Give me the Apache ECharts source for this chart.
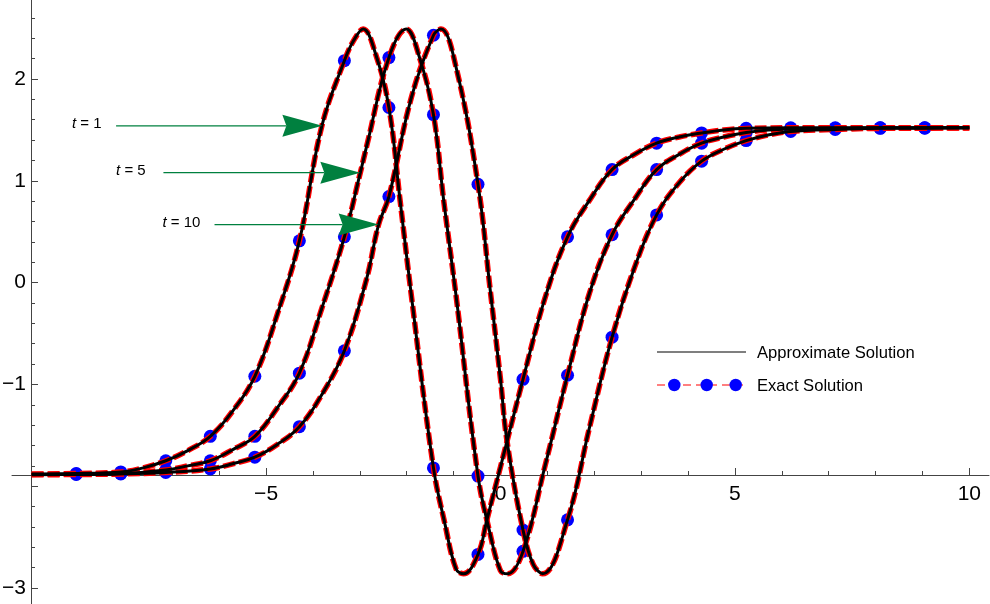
<!DOCTYPE html>
<html>
<head>
<meta charset="utf-8">
<script src="https://cdn.jsdelivr.net/npm/echarts@6/dist/echarts.min.js"></script>
<style>
  html, body { margin: 0; padding: 0; background: #fff; }
  #main { width: 990px; height: 604px; }
</style>
</head>
<body>
<div id="main"></div>
<script>
// sampled points (blue dots), same x for every t
var dotX = [-9.05, -8.10, -7.14, -6.19, -5.24, -4.29, -3.33, -2.38, -1.43, -0.48,
            0.48, 1.43, 2.38, 3.33, 4.29, 5.24, 6.19, 7.14, 8.10, 9.05];
var dotT1 = [-1.875, -1.86, -1.75, -1.51, -0.92, 0.41, 2.18, 1.72, -1.82, -2.67,
             -0.95, 0.45, 1.11, 1.37, 1.47, 1.515, 1.52, 1.52, 1.52, 1.52];
var dotT5 = [-1.88, -1.875, -1.84, -1.75, -1.51, -0.89, 0.45, 2.21, 1.65, -1.90,
             -2.64, -0.91, 0.47, 1.11, 1.37, 1.474, 1.51, 1.515, 1.52, 1.52];
var dotT10 = [-1.885, -1.88, -1.865, -1.83, -1.715, -1.415, -0.67, 0.845, 2.43, 0.966,
              -2.43, -2.33, -0.536, 0.665, 1.193, 1.395, 1.485, 1.505, 1.515, 1.517];

// curves
var t1X = [-10, -9.05, -8.10, -7.62, -7.14, -6.67, -6.19, -5.71, -5.24, -4.76, -4.29, -3.81, -3.33, -3.13, -2.93,
           -2.66, -2.38, -2.14, -1.89, -1.43, -1.19, -0.95, -0.79, -0.48, -0.29, 0, 0.48, 0.95, 1.43, 1.90,
           2.38, 2.86, 3.33, 3.81, 4.29, 4.76, 5.24, 6.19, 7.14, 8.10, 9.05, 10];
var t1Y = [-1.88, -1.875, -1.86, -1.82, -1.75, -1.65, -1.51, -1.26, -0.92, -0.31, 0.41, 1.54, 2.18, 2.38, 2.49,
           2.24, 1.72, 0.80, -0.17, -1.82, -2.36, -2.81, -2.86, -2.67, -2.33, -1.81, -0.95, -0.15, 0.45, 0.81,
           1.11, 1.26, 1.37, 1.43, 1.47, 1.50, 1.515, 1.52, 1.52, 1.52, 1.52, 1.52];

var t5X = [-10, -9.05, -8.10, -7.14, -6.67, -6.19, -5.71, -5.24, -4.76, -4.29, -3.81, -3.33, -2.99, -2.86, -2.38,
           -2.01, -1.72, -1.43, -1.21, -0.95, -0.48, -0.24, 0, 0.15, 0.48, 0.95, 1.43, 1.90, 2.38, 2.86,
           3.33, 3.81, 4.29, 4.76, 5.24, 5.71, 6.19, 7.14, 8.10, 9.05, 10];
var t5Y = [-1.885, -1.88, -1.875, -1.84, -1.80, -1.75, -1.64, -1.51, -1.23, -0.89, -0.25, 0.45, 1.08, 1.33, 2.21,
           2.49, 2.20, 1.65, 0.80, -0.12, -1.90, -2.43, -2.83, -2.86, -2.64, -1.80, -0.91, -0.10, 0.47, 0.82,
           1.11, 1.26, 1.37, 1.43, 1.474, 1.50, 1.51, 1.515, 1.52, 1.52, 1.52];

var t10X = [-10, -9.05, -8.10, -7.14, -6.19, -5.71, -5.24, -4.76, -4.29, -3.81, -3.33, -2.86, -2.60, -2.38, -1.90,
            -1.43, -1.27, -0.95, -0.48, -0.22, 0, 0.14, 0.48, 0.70, 0.90, 1.43, 1.90, 2.38, 2.86, 3.33,
            3.81, 4.29, 4.76, 5.24, 5.71, 6.19, 7.14, 8.10, 9.05, 10];
var t10Y = [-1.888, -1.885, -1.88, -1.865, -1.83, -1.78, -1.715, -1.59, -1.415, -1.10, -0.67, 0.03, 0.57, 0.845, 1.82,
            2.43, 2.49, 2.12, 0.966, -0.07, -0.95, -1.56, -2.43, -2.77, -2.86, -2.33, -1.42, -0.536, 0.15, 0.665,
            0.98, 1.193, 1.31, 1.395, 1.45, 1.485, 1.505, 1.515, 1.517, 1.52];

// axes
var xMinorTicks = [-9, -8, -7, -6, -4, -3, -2, -1, 1, 2, 3, 4, 6, 7, 8, 9];
var xMajorTicks = [-5, 0, 5, 10];
var xLabels = [-5, 0, 5, 10];
var yMinorTicks = [-3.2, -2.8, -2.6, -2.4, -2.2, -1.8, -1.6, -1.4, -1.2, -0.8, -0.6, -0.4, -0.2,
                   0.2, 0.4, 0.6, 0.8, 1.2, 1.4, 1.6, 1.8, 2.2, 2.4, 2.6];
var yMajorTicks = [-3, -2, -1, 0, 1, 2];
var yLabels = [-3, -1, 0, 1, 2];

// arrows: label, tip (data coords), tail x, text x
var arrowText = ['1', '5', '10'];
var arrowTipX = [-3.80, -2.99, -2.60];
var arrowTipY = [1.54, 1.08, 0.57];
var arrowTailX = [-8.2, -7.19, -6.10];
var arrowLabelX = [-9.14, -8.20, -7.21];

var X_MIN = -10.42, X_MAX = 10.42, Y_MIN = -3.157, Y_MAX = 2.776;

// plot box in pixels; the axes cross at x = -10, y = -1.888
var PLOT = { left: 12, right: 1, top: 0, bottom: 0 };
var AXIS_LEFT = 31;     // px of x = -10
var AXIS_BOTTOM = 129;  // 604 - px of y = -1.888

function pairs(xs, ys) {
  return xs.map(function (x, i) { return [x, ys[i]]; });
}
function minus(v) {
  return String(v).replace('-', '\u2212');
}

var FONT = '"Liberation Sans", Arial, sans-serif';
var AXIS_COLOR = '#444';
var curves = [pairs(t1X, t1Y), pairs(t5X, t5Y), pairs(t10X, t10Y)];
var dots = [pairs(dotX, dotT1), pairs(dotX, dotT5), pairs(dotX, dotT10)];

var series = [];
curves.forEach(function (c) {
  series.push({
    name: 'Exact Solution', type: 'line', data: c, smooth: 0.4, showSymbol: false,
    lineStyle: { color: '#ff0000', width: 5.5, type: [12, 4] }, silent: true
  });
});
curves.forEach(function (c) {
  series.push({
    name: 'Approximate Solution', type: 'line', data: c, smooth: 0.4, showSymbol: false,
    lineStyle: { color: '#000', width: 3 }, silent: true
  });
});
dots.forEach(function (d) {
  series.push({
    name: 'Exact Solution', type: 'scatter', data: d, symbolSize: 13,
    itemStyle: { color: '#0000ff', opacity: 1 }, silent: true
  });
});

var labelStyle = { color: '#000', fontSize: 21, fontFamily: FONT, formatter: minus };

function box(l, r, t, b) {
  return { left: l, right: r, top: t, bottom: b, containLabel: false, outerBoundsMode: 'none' };
}
function hidden(gi, min, max) {
  return { type: 'value', gridIndex: gi, show: false, min: min, max: max,
           axisLine: { onZero: false } };
}

var myChart = echarts.init(document.getElementById('main'));
var option = {
  animation: false,
  grid: [
    box(PLOT.left, PLOT.right, PLOT.top, PLOT.bottom),        // data
    box(PLOT.left, PLOT.right, PLOT.top, AXIS_BOTTOM),        // x axis, minor ticks + labels
    box(PLOT.left, PLOT.right, PLOT.top, AXIS_BOTTOM),        // x axis, major ticks
    box(AXIS_LEFT, PLOT.right, PLOT.top, PLOT.bottom),        // y axis, minor ticks + labels
    box(AXIS_LEFT, PLOT.right, PLOT.top, PLOT.bottom)         // y axis, major ticks
  ],
  xAxis: [
    hidden(0, X_MIN, X_MAX),
    {
      type: 'value', gridIndex: 1, min: X_MIN, max: X_MAX, position: 'bottom',
      axisLine: { show: true, onZero: false, lineStyle: { color: AXIS_COLOR, width: 1 } },
      axisTick: { show: true, inside: true, length: 4, customValues: xMinorTicks, lineStyle: { color: AXIS_COLOR } },
      axisLabel: Object.assign({ show: true, margin: 9, customValues: xLabels }, labelStyle),
      splitLine: { show: false }
    },
    {
      type: 'value', gridIndex: 2, min: X_MIN, max: X_MAX, position: 'bottom',
      axisLine: { show: false, onZero: false },
      axisTick: { show: true, inside: true, length: 7, customValues: xMajorTicks, lineStyle: { color: AXIS_COLOR } },
      axisLabel: { show: false },
      splitLine: { show: false }
    },
    hidden(3, 0, 1),
    hidden(4, 0, 1)
  ],
  yAxis: [
    hidden(0, Y_MIN, Y_MAX),
    hidden(1, 0, 1),
    hidden(2, 0, 1),
    {
      type: 'value', gridIndex: 3, min: Y_MIN, max: Y_MAX, position: 'left',
      axisLine: { show: true, onZero: false, lineStyle: { color: AXIS_COLOR, width: 1 } },
      axisTick: { show: true, inside: true, length: 4, customValues: yMinorTicks, lineStyle: { color: AXIS_COLOR } },
      axisLabel: Object.assign({ show: true, margin: 5, customValues: yLabels }, labelStyle),
      splitLine: { show: false }
    },
    {
      type: 'value', gridIndex: 4, min: Y_MIN, max: Y_MAX, position: 'left',
      axisLine: { show: false, onZero: false },
      axisTick: { show: true, inside: true, length: 7, customValues: yMajorTicks, lineStyle: { color: AXIS_COLOR } },
      axisLabel: { show: false },
      splitLine: { show: false }
    }
  ],
  series: series
};
myChart.setOption(option);

// annotations and legend
var green = '#00803f';
var graphics = [];
arrowText.forEach(function (t, i) {
  var tip = myChart.convertToPixel({ gridIndex: 0 }, [arrowTipX[i], arrowTipY[i]]);
  var tail = myChart.convertToPixel({ gridIndex: 0 }, [arrowTailX[i], arrowTipY[i]]);
  var lab = myChart.convertToPixel({ gridIndex: 0 }, [arrowLabelX[i], arrowTipY[i]]);
  graphics.push({
    type: 'line', z: 100,
    shape: { x1: tail[0], y1: tip[1], x2: tip[0] - 36, y2: tip[1] },
    style: { stroke: green, lineWidth: 1.3 }
  });
  graphics.push({
    type: 'polygon', z: 100,
    shape: { points: [[tip[0], tip[1]], [tip[0] - 40, tip[1] - 11], [tip[0] - 36, tip[1]], [tip[0] - 40, tip[1] + 11]] },
    style: { fill: green }
  });
  graphics.push({
    type: 'text', z: 100, x: lab[0], y: tip[1] - 2,
    style: {
      text: '{i|t} = ' + t, verticalAlign: 'middle', align: 'left',
      font: '15px ' + FONT, fill: '#000',
      rich: { i: { fontStyle: 'italic', fontSize: 15, fontFamily: FONT, fill: '#000' } }
    }
  });
});

// legend (Mathematica style, lower right)
graphics.push({ type: 'line', shape: { x1: 657, y1: 352, x2: 746, y2: 352 }, style: { stroke: '#000', lineWidth: 1.2 } });
graphics.push({ type: 'text', x: 757, y: 353, style: { text: 'Approximate Solution', font: '16.6px ' + FONT, fill: '#000', verticalAlign: 'middle' } });
graphics.push({ type: 'line', shape: { x1: 657, y1: 385, x2: 746, y2: 385 }, style: { stroke: '#ff0000', lineWidth: 1.2, lineDash: [8, 5] } });
[674.3, 706.7, 735.7].forEach(function (cx) {
  graphics.push({ type: 'circle', shape: { cx: cx, cy: 385, r: 6.2 }, style: { fill: '#0000ff' } });
});
graphics.push({ type: 'text', x: 757, y: 386, style: { text: 'Exact Solution', font: '16.6px ' + FONT, fill: '#000', verticalAlign: 'middle' } });

myChart.setOption({ graphic: graphics });
</script>
</body>
</html>
